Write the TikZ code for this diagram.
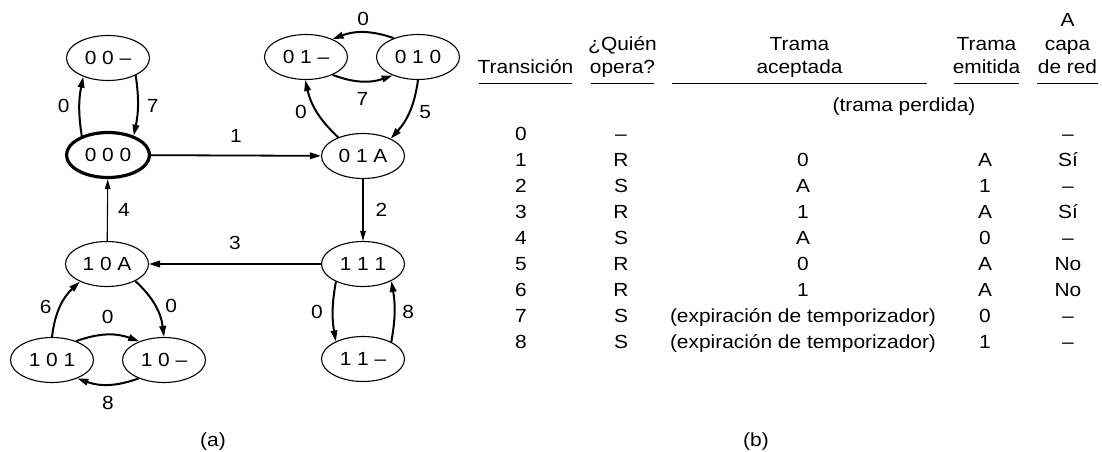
\documentclass[tikz,border=0pt]{standalone}
\usepackage{fontspec}
\setmainfont{Liberation Sans}[FakeStretch=1.1]
\usetikzlibrary{arrows.meta,shapes.geometric}

\begin{document}
\begin{tikzpicture}[x=1pt, y=1pt, font=\fontsize{19}{22}\selectfont,
    state/.style={ellipse, draw, line width=1.1pt, minimum width=83pt, minimum height=45pt, inner sep=0pt},
    initstate/.style={state, line width=3.2pt},
    trans/.style={-{Triangle[length=11pt,width=6.5pt]}, line width=2pt},
    thintrans/.style={-{Triangle[length=10pt,width=5.5pt]}, line width=1.1pt},
    lbl/.style={inner sep=0pt},
    cell/.style={anchor=base, inner sep=0pt}]
    \useasboundingbox (0,0) rectangle (1102,-452);
    % states of the protocol
    \node[state]     (s00x) at (108,-58)  {0 0 --};
    \node[initstate] (s000) at (108,-155) {0 0 0};
    \node[state]     (s01x) at (306,-57)  {0 1 --};
    \node[state]     (s010) at (418,-57)  {0 1 0};
    \node[state]     (s01A) at (363,-156) {0 1 A};
    \node[state]     (s10A) at (107,-264) {1 0 A};
    \node[state]     (s111) at (363,-264) {1 1 1};
    \node[state]     (s101) at (52,-360)  {1 0 1};
    \node[state]     (s10x) at (164,-360) {1 0 --};
    \node[state]     (s11x) at (363,-359) {1 1 --};
    % transitions
    \draw[trans] (s000.144) to[bend left=10] node[lbl, left=9pt] {0} (s00x.217);
    \draw[trans] (s00x.328) to[bend left=10] node[lbl, right=8pt] {7} (s000.37);
    \draw[trans, line width=1.8pt] (s000) -- node[lbl, above=12pt] {1} (s01A);
    \draw[trans] (s01A.143) to[bend left=17] node[lbl, left=9pt] {0} (s01x.268);
    \draw[trans] (s010.270) to[bend left=17] node[lbl, right=9pt] {5} (s01A.32);
    \draw[trans] (s010.142) to[bend right=20] node[lbl, above=6pt] {0} (s01x.34);
    \draw[trans] (s01x.326) to[bend right=20] node[lbl, below=10pt] {7} (s010.216);
    \draw[thintrans] (s01A) -- node[lbl, right=12pt] {2} (s111);
    \draw[trans, line width=1.8pt] (s111) -- node[lbl, above=13pt] {3} (s10A);
    \draw[thintrans] (s10A) -- node[lbl, right=10pt] {4} (s000);
    \draw[trans] (s101.90) to[bend left=20] node[lbl, left=8pt] {6} (s10A.213);
    \draw[trans] (s10A.329) to[bend left=20] node[lbl, right=9pt] {0} (s10x.90);
    \draw[trans] (s101.38) to[bend left=20] node[lbl, above=10pt] {0} (s10x.143);
    \draw[trans] (s10x.216) to[bend left=20] node[lbl, below=11pt] {8} (s101.324);
    \draw[trans] (s111.213) to[bend right=10] node[lbl, left=9pt] {0} (s11x.147);
    \draw[trans] (s11x.31) to[bend right=10] node[lbl, right=7pt] {8} (s111.329);
    \node[cell] (capa) at (213,-446) {(a)};

    % table header
    \node[cell] (hA)    at (1067.5,-27) {A};
    \node[cell] (hQ)    at (622.5,-50.5) {¿Quién};
    \node[cell] (hTa)   at (799.5,-50.5) {Trama};
    \node[cell] (hTe)   at (986.5,-50.5) {Trama};
    \node[cell] (hcapa) at (1067.5,-50.5) {capa};
    \node[cell] (hT)    at (525.5,-74) {Transición};
    \node[cell] (hop)   at (622.5,-74) {opera?};
    \node[cell] (hacc)  at (799.5,-74) {aceptada};
    \node[cell] (hemi)  at (986.5,-74) {emitida};
    \node[cell] (hred)  at (1067.5,-74) {de red};
    \foreach \a/\b in {479/572, 591/654, 672/927, 954/1019, 1037/1098}
        \draw[line width=0.9pt] (\a,-83) -- (\b,-83);
    \node[cell] (lost) at (904,-111) {(trama perdida)};
    % table rows
    \foreach \tr/\who/\acc/\emi/\net [count=\i from 0] in {0/--/{}/{}/--, 1/R/0/A/Sí, 2/S/A/1/--,
        3/R/1/A/Sí, 4/S/A/0/--, 5/R/0/A/No, 6/R/1/A/No,
        7/S/{(expiración de temporizador)}/0/--, 8/S/{(expiración de temporizador)}/1/--} {
        \pgfmathsetmacro{\yy}{-(140+26.1*\i)}
        \node[cell] at (521,\yy) {\tr};
        \node[cell] at (621,\yy) {\who};
        \node[cell] at (803,\yy) {\acc};
        \node[cell] at (985,\yy) {\emi};
        \node[cell] at (1068,\yy) {\net};
    }
    \node[cell] (capb) at (756,-446) {(b)};
\end{tikzpicture}
\end{document}
